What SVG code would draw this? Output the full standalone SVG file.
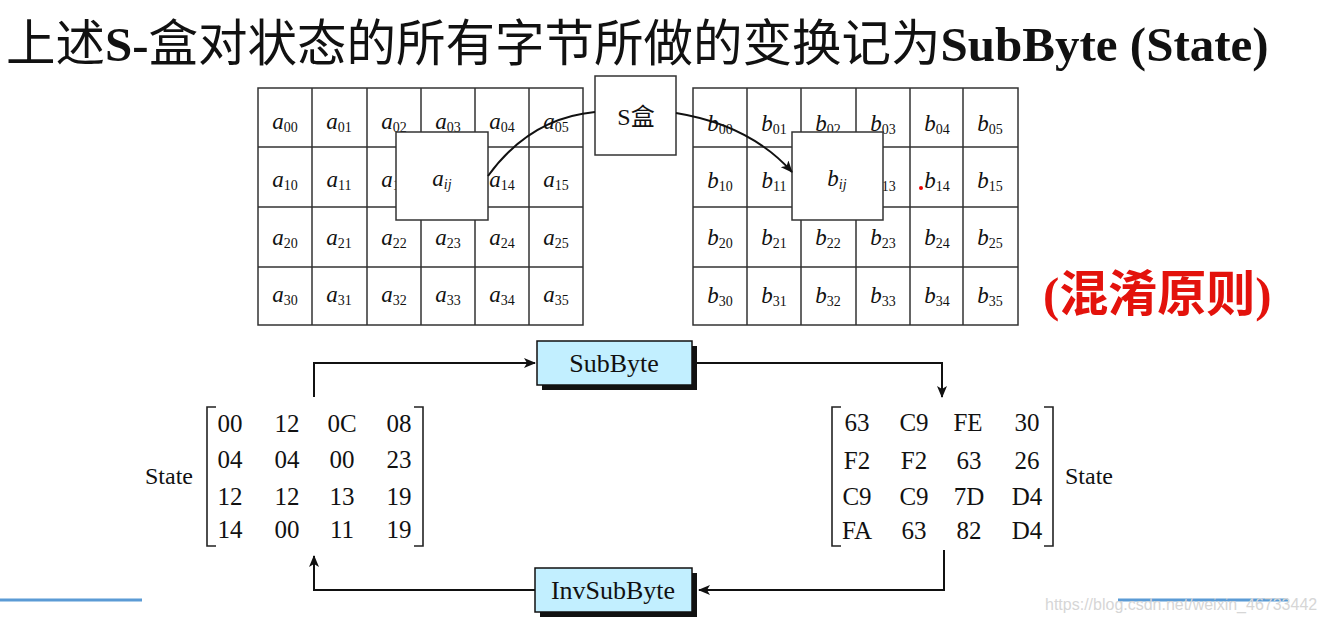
<svg xmlns="http://www.w3.org/2000/svg" width="1325" height="622" viewBox="0 0 1325 622">
<defs>
<marker id="ah" viewBox="0 0 12 10" refX="11" refY="5" markerWidth="12" markerHeight="10" markerUnits="userSpaceOnUse" orient="auto">
<path d="M0,0 L12,5 L0,10 L3,5 Z" fill="#111"/>
</marker>
<style>
text{font-family:'Liberation Serif','Noto Sans CJK SC',serif;fill:#111}
.g{fill:#fff;stroke:#333;stroke-width:1.5}
.v{font-style:italic;font-size:23px}
.s{font-size:14px}
.c{font-size:24px;text-anchor:middle}
.n{font-size:25px;text-anchor:middle}
.box{fill:#c2efff;stroke:#111;stroke-width:1.5}
.sh{fill:#111}
.ln{fill:none;stroke:#111;stroke-width:2}
.br{fill:none;stroke:#222;stroke-width:1.6}
</style>
</defs>
<rect width="1325" height="622" fill="#fff"/>

<g id="title">
<text x="6" y="61" font-size="49.5">上述<tspan font-weight="bold" font-size="49">S-</tspan>盒对状态的所有字节所做的变换记为<tspan font-weight="bold" font-size="49">SubByte (State)</tspan></text>
</g>

<g id="gridA">
<rect class="g" x="258" y="88" width="325" height="237"/>
<path d="M312,88V325M367,88V325M421,88V325M475,88V325M529,88V325M258,147H583M258,207H583M258,267H583" stroke="#333" stroke-width="1.5" fill="none"/>
<g text-anchor="middle">
<text x="285" y="129"><tspan class="v">a</tspan><tspan class="s" dy="3">00</tspan></text>
<text x="339" y="129"><tspan class="v">a</tspan><tspan class="s" dy="3">01</tspan></text>
<text x="394" y="129"><tspan class="v">a</tspan><tspan class="s" dy="3">02</tspan></text>
<text x="448" y="129"><tspan class="v">a</tspan><tspan class="s" dy="3">03</tspan></text>
<text x="502" y="129"><tspan class="v">a</tspan><tspan class="s" dy="3">04</tspan></text>
<text x="556" y="129"><tspan class="v">a</tspan><tspan class="s" dy="3">05</tspan></text>
<text x="285" y="187"><tspan class="v">a</tspan><tspan class="s" dy="3">10</tspan></text>
<text x="339" y="187"><tspan class="v">a</tspan><tspan class="s" dy="3">11</tspan></text>
<text x="394" y="187"><tspan class="v">a</tspan><tspan class="s" dy="3">12</tspan></text>
<text x="502" y="187"><tspan class="v">a</tspan><tspan class="s" dy="3">14</tspan></text>
<text x="556" y="187"><tspan class="v">a</tspan><tspan class="s" dy="3">15</tspan></text>
<text x="285" y="245"><tspan class="v">a</tspan><tspan class="s" dy="3">20</tspan></text>
<text x="339" y="245"><tspan class="v">a</tspan><tspan class="s" dy="3">21</tspan></text>
<text x="394" y="245"><tspan class="v">a</tspan><tspan class="s" dy="3">22</tspan></text>
<text x="448" y="245"><tspan class="v">a</tspan><tspan class="s" dy="3">23</tspan></text>
<text x="502" y="245"><tspan class="v">a</tspan><tspan class="s" dy="3">24</tspan></text>
<text x="556" y="245"><tspan class="v">a</tspan><tspan class="s" dy="3">25</tspan></text>
<text x="285" y="302"><tspan class="v">a</tspan><tspan class="s" dy="3">30</tspan></text>
<text x="339" y="302"><tspan class="v">a</tspan><tspan class="s" dy="3">31</tspan></text>
<text x="394" y="302"><tspan class="v">a</tspan><tspan class="s" dy="3">32</tspan></text>
<text x="448" y="302"><tspan class="v">a</tspan><tspan class="s" dy="3">33</tspan></text>
<text x="502" y="302"><tspan class="v">a</tspan><tspan class="s" dy="3">34</tspan></text>
<text x="556" y="302"><tspan class="v">a</tspan><tspan class="s" dy="3">35</tspan></text>
</g>
</g>

<g id="gridB">
<rect class="g" x="693" y="88" width="325" height="237"/>
<path d="M747,88V325M801,88V325M856,88V325M910,88V325M963,88V325M693,147H1018M693,207H1018M693,267H1018" stroke="#333" stroke-width="1.5" fill="none"/>
<g text-anchor="middle">
<text x="720" y="131"><tspan class="v">b</tspan><tspan class="s" dy="3">00</tspan></text>
<text x="774" y="131"><tspan class="v">b</tspan><tspan class="s" dy="3">01</tspan></text>
<text x="828" y="131"><tspan class="v">b</tspan><tspan class="s" dy="3">02</tspan></text>
<text x="883" y="131"><tspan class="v">b</tspan><tspan class="s" dy="3">03</tspan></text>
<text x="937" y="131"><tspan class="v">b</tspan><tspan class="s" dy="3">04</tspan></text>
<text x="990" y="131"><tspan class="v">b</tspan><tspan class="s" dy="3">05</tspan></text>
<text x="720" y="188"><tspan class="v">b</tspan><tspan class="s" dy="3">10</tspan></text>
<text x="774" y="188"><tspan class="v">b</tspan><tspan class="s" dy="3">11</tspan></text>
<text x="883" y="188"><tspan class="v">b</tspan><tspan class="s" dy="3">13</tspan></text>
<text x="937" y="188"><tspan class="v">b</tspan><tspan class="s" dy="3">14</tspan></text>
<text x="990" y="188"><tspan class="v">b</tspan><tspan class="s" dy="3">15</tspan></text>
<text x="720" y="245"><tspan class="v">b</tspan><tspan class="s" dy="3">20</tspan></text>
<text x="774" y="245"><tspan class="v">b</tspan><tspan class="s" dy="3">21</tspan></text>
<text x="828" y="245"><tspan class="v">b</tspan><tspan class="s" dy="3">22</tspan></text>
<text x="883" y="245"><tspan class="v">b</tspan><tspan class="s" dy="3">23</tspan></text>
<text x="937" y="245"><tspan class="v">b</tspan><tspan class="s" dy="3">24</tspan></text>
<text x="990" y="245"><tspan class="v">b</tspan><tspan class="s" dy="3">25</tspan></text>
<text x="720" y="303"><tspan class="v">b</tspan><tspan class="s" dy="3">30</tspan></text>
<text x="774" y="303"><tspan class="v">b</tspan><tspan class="s" dy="3">31</tspan></text>
<text x="828" y="303"><tspan class="v">b</tspan><tspan class="s" dy="3">32</tspan></text>
<text x="883" y="303"><tspan class="v">b</tspan><tspan class="s" dy="3">33</tspan></text>
<text x="937" y="303"><tspan class="v">b</tspan><tspan class="s" dy="3">34</tspan></text>
<text x="990" y="303"><tspan class="v">b</tspan><tspan class="s" dy="3">35</tspan></text>
</g>
<circle cx="921" cy="188" r="2" fill="#e00"/>
</g>

<g id="aij">
<rect class="g" x="396" y="132" width="92" height="88"/>
<text x="442" y="186" text-anchor="middle"><tspan class="v">a</tspan><tspan class="s" font-style="italic" dy="3">ij</tspan></text>
</g>

<g id="bij">
<rect class="g" x="792" y="132" width="91" height="88"/>
<text x="837" y="186" text-anchor="middle"><tspan class="v">b</tspan><tspan class="s" font-style="italic" dy="3">ij</tspan></text>
</g>

<g id="sbox">
<rect class="g" x="595" y="76" width="81" height="79"/>
<text x="636" y="125" class="c" font-size="23">S盒</text>
</g>

<g id="subbyte">
<rect class="sh" x="542" y="346" width="155" height="44"/>
<rect class="box" x="537" y="341" width="155" height="44"/>
<text x="614" y="372" font-size="26" text-anchor="middle">SubByte</text>
</g>

<g id="invsubbyte">
<rect class="sh" x="540" y="573" width="157" height="44"/>
<rect class="box" x="535" y="568" width="157" height="44"/>
<text x="613" y="599" font-size="26" text-anchor="middle">InvSubByte</text>
</g>

<g id="stateA">
<text x="193" y="484" font-size="24" text-anchor="end">State</text>
<path class="br" d="M216,407H207V546H216M414,407H423V546H414"/>
<text class="n" x="230" y="432">00</text><text class="n" x="287" y="432">12</text><text class="n" x="342" y="432">0C</text><text class="n" x="399" y="432">08</text>
<text class="n" x="230" y="468">04</text><text class="n" x="287" y="468">04</text><text class="n" x="342" y="468">00</text><text class="n" x="399" y="468">23</text>
<text class="n" x="230" y="505">12</text><text class="n" x="287" y="505">12</text><text class="n" x="342" y="505">13</text><text class="n" x="399" y="505">19</text>
<text class="n" x="230" y="538">14</text><text class="n" x="287" y="538">00</text><text class="n" x="342" y="538">11</text><text class="n" x="399" y="538">19</text>
</g>

<g id="stateB">
<text x="1065" y="484" font-size="24">State</text>
<path class="br" d="M841,407H832V546H841M1044,407H1053V546H1044"/>
<text class="n" x="857" y="431">63</text><text class="n" x="914" y="431">C9</text><text class="n" x="968" y="431">FE</text><text class="n" x="1027" y="431">30</text>
<text class="n" x="857" y="469">F2</text><text class="n" x="914" y="469">F2</text><text class="n" x="969" y="469">63</text><text class="n" x="1027" y="469">26</text>
<text class="n" x="857" y="505">C9</text><text class="n" x="914" y="505">C9</text><text class="n" x="969" y="505">7D</text><text class="n" x="1027" y="505">D4</text>
<text class="n" x="857" y="539">FA</text><text class="n" x="914" y="539">63</text><text class="n" x="969" y="539">82</text><text class="n" x="1027" y="539">D4</text>
</g>

<g id="connectors">
<path class="ln" d="M488,176 Q530,118 595,112"/>
<path class="ln" d="M676,113 Q750,125 792,172" marker-end="url(#ah)"/>
<path class="ln" d="M314,397 V363 H535" marker-end="url(#ah)"/>
<path class="ln" d="M692,363 H942 V397" marker-end="url(#ah)"/>
<path class="ln" d="M944,550 V590 H699" marker-end="url(#ah)"/>
<path class="ln" d="M535,590 H314 V556" marker-end="url(#ah)"/>
</g>

<g id="note">
<text x="1043" y="311" font-size="49" font-weight="bold" style="fill:#e3120c">(混淆原则)</text>
</g>

<g id="deco">
<line x1="0" y1="600" x2="142" y2="600" stroke="#5b9bd5" stroke-width="3"/>
<line x1="1118" y1="600" x2="1288" y2="600" stroke="#5b9bd5" stroke-width="3"/>
<text x="1045" y="610" font-size="16" style="fill:#d6d6d6;font-family:'Liberation Sans',sans-serif">https://blog.csdn.net/weixin_46733442</text>
</g>
</svg>
